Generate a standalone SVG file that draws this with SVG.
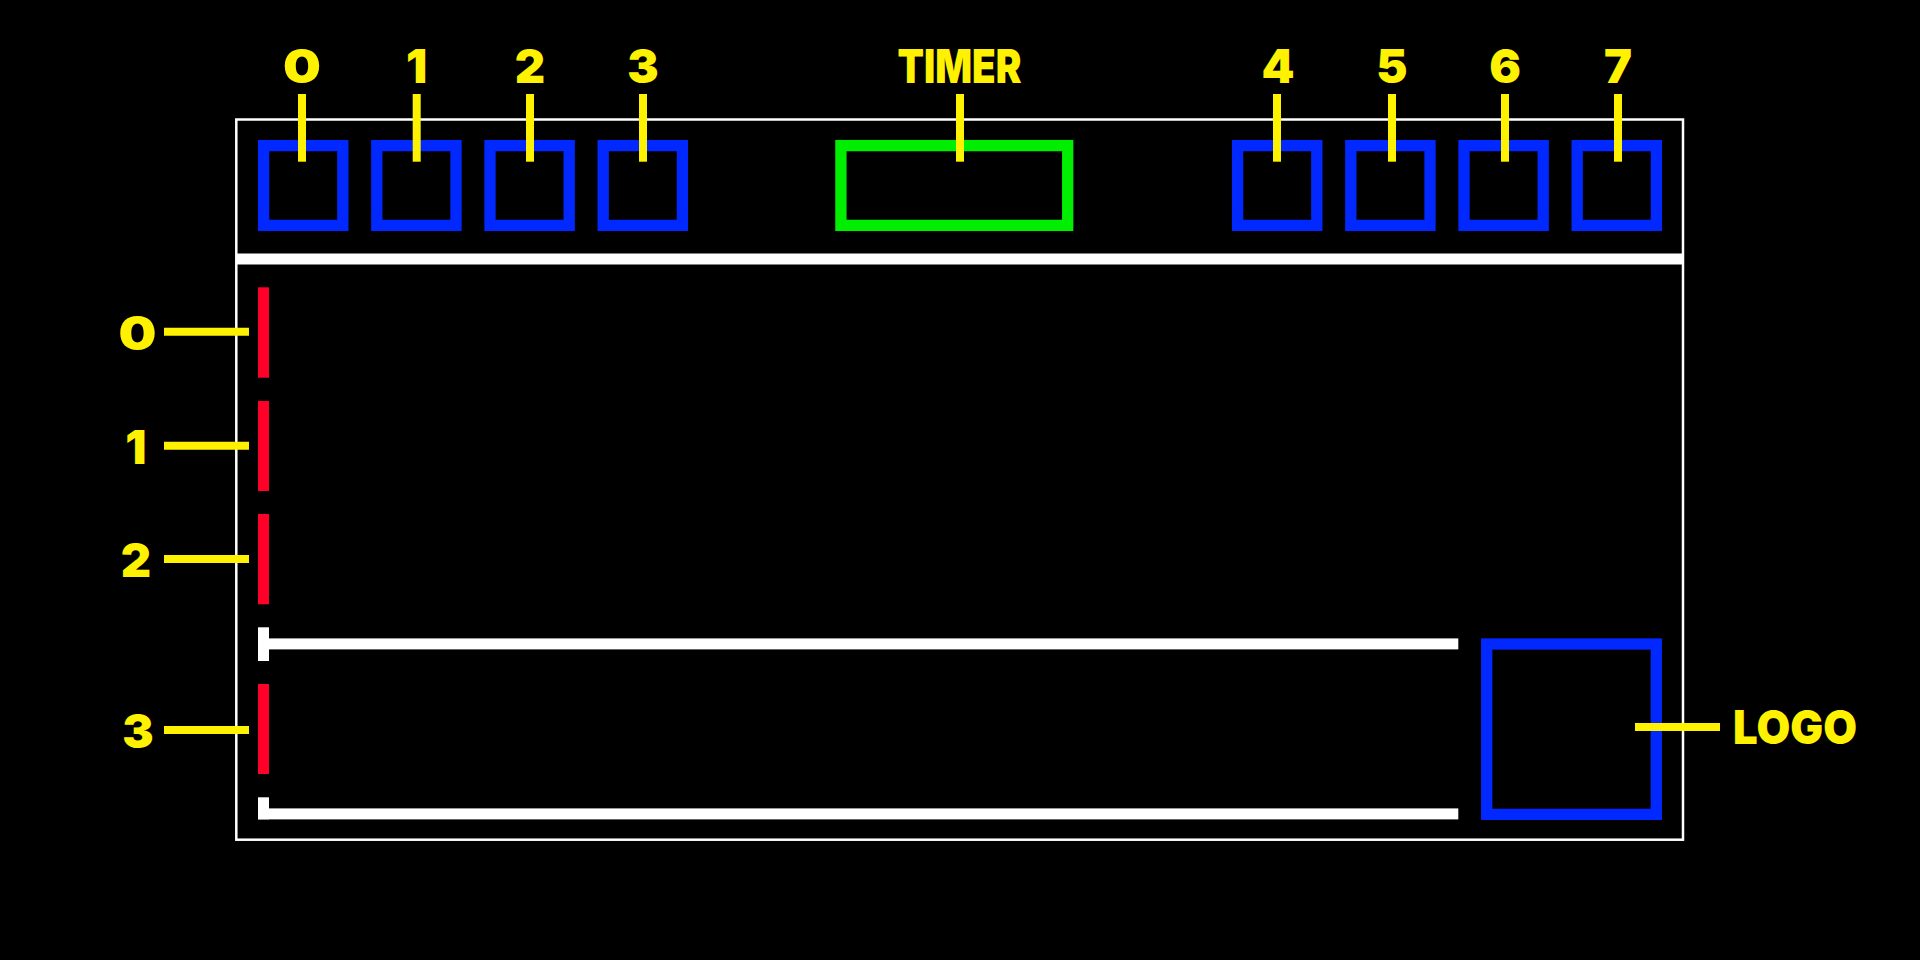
<svg xmlns="http://www.w3.org/2000/svg" width="1920" height="960" viewBox="0 0 1920 960">
<style>
.lbl{font-family:Inter,"Liberation Sans",sans-serif;font-weight:900;font-size:47px;fill:#fff200;}
.blue{fill:none;stroke:#0028ff;stroke-width:11.3;}
.green{fill:none;stroke:#00ee00;stroke-width:11.3;}
.red{fill:#ff0028;}
.white{fill:#ffffff;}
.lead{stroke:#fff200;stroke-width:8;fill:none;}
</style>
<rect x="0" y="0" width="1920" height="960" fill="#000"/>
<g id="frame">
<rect x="236.3" y="119.5" width="1446.7" height="720.2" fill="none" stroke="#fff" stroke-width="2.5"/>
<rect class="white" x="236" y="253.5" width="1447" height="11"/>
</g>
<g id="top-slots">
<rect id="slot0" class="blue" x="263.6" y="145.6" width="79.2" height="79.8"/>
<rect id="slot1" class="blue" x="376.8" y="145.6" width="79.2" height="79.8"/>
<rect id="slot2" class="blue" x="490" y="145.6" width="79.2" height="79.8"/>
<rect id="slot3" class="blue" x="603.2" y="145.6" width="79.2" height="79.8"/>
<rect id="slot4" class="blue" x="1237.6" y="145.6" width="79.2" height="79.8"/>
<rect id="slot5" class="blue" x="1350.8" y="145.6" width="79.2" height="79.8"/>
<rect id="slot6" class="blue" x="1464" y="145.6" width="79.2" height="79.8"/>
<rect id="slot7" class="blue" x="1577.2" y="145.6" width="79.2" height="79.8"/>
</g>
<g id="timer">
<rect class="green" x="840.9" y="145.6" width="226.8" height="79.8"/>
</g>
<g id="rows">
<rect class="red" x="258" y="287.3" width="11" height="90.4"/>
<rect class="red" x="258" y="401" width="11" height="90"/>
<rect class="red" x="258" y="514" width="11" height="90.3"/>
<rect class="red" x="258" y="684" width="11" height="90"/>
<rect class="white" x="258" y="627.3" width="11" height="33.7"/>
<rect class="white" x="258" y="638.4" width="1200.3" height="11"/>
<rect class="white" x="258" y="797.3" width="11" height="22"/>
<rect class="white" x="258" y="808.4" width="1200.3" height="11"/>
</g>
<g id="logo">
<rect class="blue" x="1486.7" y="644" width="169.6" height="170.4"/>
</g>
<g id="connectors">
<line class="lead" x1="302" y1="94" x2="302" y2="161.7"/>
<line class="lead" x1="416.7" y1="94" x2="416.7" y2="161.7"/>
<line class="lead" x1="530" y1="94" x2="530" y2="161.7"/>
<line class="lead" x1="643" y1="94" x2="643" y2="161.7"/>
<line class="lead" x1="960" y1="94" x2="960" y2="161.7"/>
<line class="lead" x1="1277" y1="94" x2="1277" y2="161.7"/>
<line class="lead" x1="1392" y1="94" x2="1392" y2="161.7"/>
<line class="lead" x1="1505" y1="94" x2="1505" y2="161.7"/>
<line class="lead" x1="1618" y1="94" x2="1618" y2="161.7"/>
<line class="lead" x1="164" y1="331.8" x2="249" y2="331.8"/>
<line class="lead" x1="164" y1="445.7" x2="249" y2="445.7"/>
<line class="lead" x1="164" y1="559" x2="249" y2="559"/>
<line class="lead" x1="164" y1="730" x2="249" y2="730"/>
<line class="lead" x1="1635" y1="727" x2="1720" y2="727"/>
</g>
<g id="labels">
<text class="lbl" x="302" y="82.5" text-anchor="middle" textLength="38" lengthAdjust="spacingAndGlyphs">0</text>
<text class="lbl" x="416.7" y="82.5" text-anchor="middle">1</text>
<text class="lbl" x="530" y="82.5" text-anchor="middle">2</text>
<text class="lbl" x="643" y="82.5" text-anchor="middle">3</text>
<text class="lbl" x="959.5" y="82.5" text-anchor="middle" textLength="124" lengthAdjust="spacingAndGlyphs">TIMER</text>
<text class="lbl" x="1278" y="82.5" text-anchor="middle">4</text>
<text class="lbl" x="1392" y="82.5" text-anchor="middle">5</text>
<text class="lbl" x="1505" y="82.5" text-anchor="middle">6</text>
<text class="lbl" x="1618" y="82.5" text-anchor="middle">7</text>
<text class="lbl" x="137.5" y="350" text-anchor="middle" textLength="38" lengthAdjust="spacingAndGlyphs">0</text>
<text class="lbl" x="136" y="464" text-anchor="middle">1</text>
<text class="lbl" x="136" y="576.5" text-anchor="middle">2</text>
<text class="lbl" x="138" y="748" text-anchor="middle">3</text>
<text class="lbl" x="1733" y="744" textLength="124" lengthAdjust="spacingAndGlyphs">LOGO</text>
</g>
</svg>
